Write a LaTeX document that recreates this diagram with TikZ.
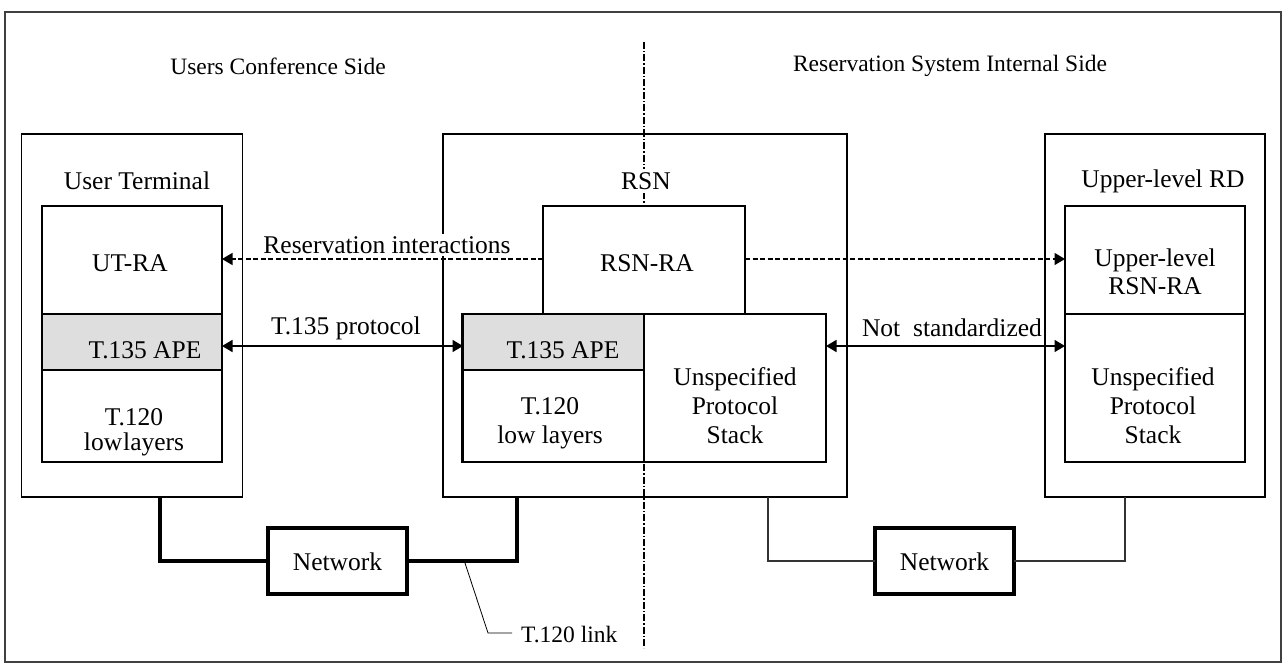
\documentclass[tikz,border=0pt]{standalone}
\usepackage{fontspec}
\setmainfont{Liberation Serif}
\usetikzlibrary{arrows.meta}
\begin{document}
\begin{tikzpicture}[x=1pt,y=-1pt,
  box/.style={draw=black, line width=1.2pt, inner sep=0pt, outer sep=0pt, fill=white},
  apebox/.style={box, fill=black!13},
  netbox/.style={draw=black, line width=3.8pt, inner sep=0pt, outer sep=0pt, fill=white},
  head/.style={font=\fontsize{23.5}{28}\selectfont, inner sep=0pt},
  txt/.style={font=\fontsize{25.5}{29}\selectfont, inner sep=0pt, align=center},
  dasharrow/.style={line width=1.4pt, dash pattern=on 5pt off 2.5pt, -{Triangle[length=10.5pt,width=12pt]}},
  dblarrow/.style={line width=1.6pt, {Triangle[length=10.5pt,width=12pt]}-{Triangle[length=10.5pt,width=12pt]}},
  divider/.style={line width=1.5pt, dash pattern=on 7pt off 2pt on 1.5pt off 2pt},
  thickline/.style={line width=4pt},
  thinline/.style={line width=1.3pt, draw=black!80},
]
\useasboundingbox (0,0) rectangle (1284,666);
\draw[line width=1.2pt, draw=black!75] (5,12) rectangle (1281,662);

% headings
\node[head] (hleft) at (278,66) {Users Conference Side};
\node[head] (hright) at (950,66) {Reservation System Internal Side};

% User Terminal
\node[box, minimum width=221pt, minimum height=363pt] (ut) at (132,315.5) {};
\node[box, minimum width=180pt, minimum height=108pt] (utra) at (132,260) {};
\node[apebox, minimum width=180pt, minimum height=56pt] (utape) at (132,342) {};
\node[box, minimum width=180pt, minimum height=92pt] (utlow) at (132,416) {};
\node[txt] (utlbl) at (137,181) {User Terminal};
\node[txt] (utratxt) at (130,263.5) {UT-RA};
\node[txt] (utapetxt) at (145,350) {T.135 APE};
\node[txt, font=\fontsize{25.5}{25}\selectfont] (utlowtxt) at (134,432) {T.120\\low\kern1pt layers};

% RSN
\node[box, minimum width=404pt, minimum height=363pt] (rsn) at (645,315.5) {};
\node[box, minimum width=364pt, minimum height=148pt] (rsnlowbox) at (644,388) {};
\node[apebox, minimum width=181pt, minimum height=56pt] (rsnape) at (553.5,342) {};
\node[box, minimum width=181pt, minimum height=92pt] (rsnlow) at (553.5,416) {};
\node[txt] (rsnapetxt) at (563,350) {T.135 APE};
\node[txt] (rsnlowtxt) at (550,423) {T.120\\low layers};
\node[txt] (rsnunstxt) at (735,406) {Unspecified\\Protocol\\Stack};

% divider
\coordinate (divtop) at (644,42);
\coordinate (divbot) at (644,648);
\node[box, minimum width=202pt, minimum height=108pt] (rsnra) at (644,260) {};
\node[txt] (rsnratxt) at (647,263.5) {RSN-RA};
\draw[divider] (divtop) -- (rsnra.north);
\draw[divider] (rsnra.south) -- (divbot);
\node[txt, fill=white, inner sep=3pt] (rsnlbl) at (646,181) {RSN};

% Upper-level RD
\node[box, minimum width=220pt, minimum height=363pt] (ul) at (1155,315.5) {};
\node[box, minimum width=180pt, minimum height=108pt] (ulra) at (1155,260) {};
\node[box, minimum width=180pt, minimum height=148pt] (uluns) at (1155,388) {};
\node[txt] (ullbl) at (1163,181) {Upper-level RD};
\node[txt, font=\fontsize{25.5}{28}\selectfont] (ulratxt) at (1155,272) {Upper-level\\RSN-RA};
\node[txt] (ulunstxt) at (1153,406) {Unspecified\\Protocol\\Stack};

% arrows
\coordinate (utraE) at (222,259);
\coordinate (ulraW) at (1065,259);
\draw[dasharrow] (rsnra.west |- utraE) -- (utraE);
\draw[dasharrow] (rsnra.east |- ulraW) -- (ulraW);
\node[txt, fill=white, inner sep=2pt] (resint) at (387,245) {Reservation interactions};

\coordinate (apeL) at (222,346);
\coordinate (apeR) at (463,346);
\draw[dblarrow] (apeL) -- (apeR);
\node[txt] (t135p) at (346,328) {T.135 protocol};

\coordinate (unsL) at (826,346);
\coordinate (unsR) at (1065,346);
\draw[dblarrow] (unsL) -- (unsR);
\node[txt] (notstd) at (952,328) {Not\ \ standardized};

% networks
\node[netbox, minimum width=139pt, minimum height=66pt] (net1) at (337.5,561) {};
\node[txt] (net1txt) at (337.5,562) {Network};
\node[netbox, minimum width=139pt, minimum height=66pt] (net2) at (944.5,561) {};
\node[txt] (net2txt) at (944.5,562) {Network};

\coordinate (utport) at (160,497);
\coordinate (rsnport) at (517,497);
\coordinate (rsnport2) at (768,497);
\coordinate (ulport) at (1125,497);
\draw[thickline] (utport) |- (net1.west);
\draw[thickline] (net1.east) -| (rsnport);
\draw[thinline] (rsnport2) |- (net2.west);
\draw[thinline] (net2.east) -| (ulport);

% T.120 link leader
\coordinate (leadstart) at (465,563);
\coordinate (leadbend) at (488,633);
\node[head, anchor=west, font=\fontsize{23.5}{28}\selectfont] (lnk) at (521,635) {T.120 link};
\draw[line width=0.8pt] (leadstart) -- (leadbend) -- ([xshift=-9pt]lnk.west |- leadbend);
\end{tikzpicture}
\end{document}
